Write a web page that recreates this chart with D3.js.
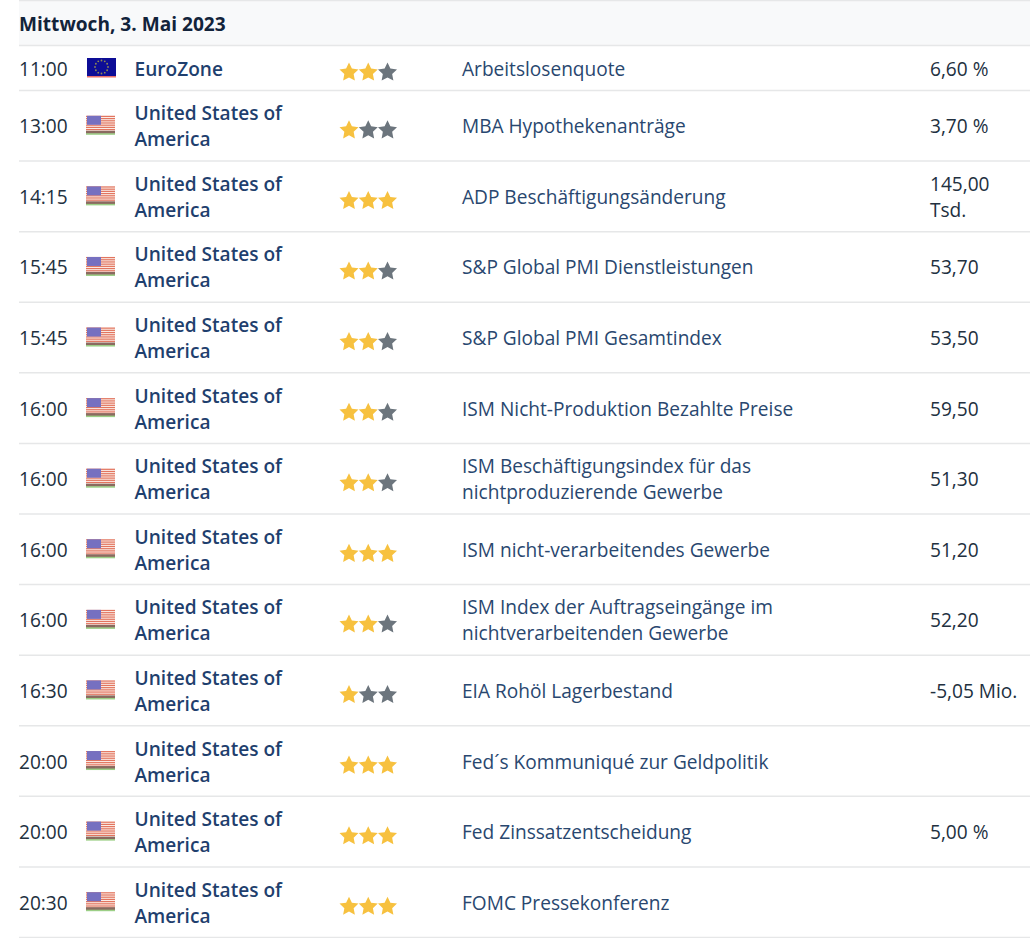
<!DOCTYPE html>
<html>
<head>
<meta charset="utf-8">
<script src="https://cdn.jsdelivr.net/npm/d3@7"></script>
<style>
    html, body { margin: 0; padding: 0; background: #fff; overflow: hidden; }
    svg { display: block; font-family: "Open Sans", sans-serif; }
</style>
</head>
<body>
<svg id="chart" width="1030" height="938"></svg>
<script>
const dateTitle = "Mittwoch, 3. Mai 2023";

const times = ["11:00", "13:00", "14:15", "15:45", "15:45", "16:00", "16:00", "16:00", "16:00", "16:30", "20:00", "20:00", "20:30"];

const usa = ["United States of", "America"];
const countries = [["EuroZone"], usa, usa, usa, usa, usa, usa, usa, usa, usa, usa, usa, usa];

const flags = ["eu", "us", "us", "us", "us", "us", "us", "us", "us", "us", "us", "us", "us"];

const ratings = [2, 1, 3, 2, 2, 2, 2, 3, 2, 1, 3, 3, 3];

const events = [
    ["Arbeitslosenquote"],
    ["MBA Hypothekenanträge"],
    ["ADP Beschäftigungsänderung"],
    ["S&P Global PMI Dienstleistungen"],
    ["S&P Global PMI Gesamtindex"],
    ["ISM Nicht-Produktion Bezahlte Preise"],
    ["ISM Beschäftigungsindex für das", "nichtproduzierende Gewerbe"],
    ["ISM nicht-verarbeitendes Gewerbe"],
    ["ISM Index der Auftragseingänge im", "nichtverarbeitenden Gewerbe"],
    ["EIA Rohöl Lagerbestand"],
    ["Fed´s Kommuniqué zur Geldpolitik"],
    ["Fed Zinssatzentscheidung"],
    ["FOMC Pressekonferenz"]
];

const values = [["6,60 %"], ["3,70 %"], ["145,00", "Tsd."], ["53,70"], ["53,50"], ["59,50"], ["51,30"], ["51,20"], ["52,20"], ["-5,05 Mio."], [], ["5,00 %"], []];

const svg = d3.select("#chart");
const left = 19, right = 1030;
const fontSize = 19.1;

// rows after the first are all the same height, so a linear scale does it
const rowY = d3.scaleLinear().domain([1, 13]).range([90.5, 937.5]);
const top_ = i => i === 0 ? 45.5 : rowY(i);
const mid = i => (top_(i) + rowY(i + 1)) / 2;

svg.append("rect").attr("x", left).attr("y", 0).attr("width", right - left).attr("height", 45).attr("fill", "#f8f9fa");

const ruleYs = [0.5, 45.5].concat(d3.range(1, 14).map(rowY));
svg.selectAll("line.rule").data(ruleYs).join("line")
    .attr("class", "rule")
    .attr("x1", left).attr("x2", right)
    .attr("y1", d => d).attr("y2", d => d)
    .attr("stroke", "#e6e7e8").attr("stroke-width", 1.5);

svg.append("text").attr("x", left).attr("y", 30.5)
    .attr("font-size", fontSize).attr("font-weight", 700).attr("fill", "#12233a")
    .text(dateTitle);

const defs = svg.append("defs");
defs.append("filter").attr("id", "soft").append("feGaussianBlur").attr("stdDeviation", 0.5);

const rows = svg.selectAll("g.row").data(times).join("g")
    .attr("class", "row")
    .attr("transform", (d, i) => `translate(0,${mid(i)})`);

rows.append("text").attr("x", left).attr("y", 7.5)
    .attr("font-size", fontSize).attr("fill", "#22303f")
    .text(d => d);

// multi line cell, centered around the row middle
function cell(sel, x, getLines, opts) {
    sel.each(function (d, i) {
        const lines = getLines(i);
        const offset = -(lines.length - 1) * 13 + 7.5;
        d3.select(this).selectAll(null).data(lines).join("text")
            .attr("x", x)
            .attr("y", (l, k) => offset + k * 26)
            .attr("font-size", fontSize)
            .attr("font-weight", opts.weight || 400)
            .attr("fill", opts.color)
            .text(l => l);
    });
}

cell(rows, 134.5, i => countries[i], { weight: 600, color: "#1f3f6e" });
cell(rows, 462, i => events[i], { color: "#29476f" });
cell(rows, 930, i => values[i], { color: "#22303f" });

// flags
rows.each(function (d, i) {
    const g = d3.select(this).append("g").attr("filter", "url(#soft)");
    if (flags[i] === "eu") {
        g.append("rect").attr("x", 87).attr("y", -10).attr("width", 29).attr("height", 19).attr("fill", "#0c0c96");
        g.append("rect").attr("x", 87).attr("y", 8).attr("width", 29).attr("height", 1.5).attr("fill", "#e8706a");
        g.selectAll("circle").data(d3.range(12)).join("circle")
            .attr("cx", k => 101.5 + 6.5 * Math.cos(k * Math.PI / 6))
            .attr("cy", k => -1 + 6.5 * Math.sin(k * Math.PI / 6))
            .attr("r", 0.9).attr("fill", "#8f8a55");
    } else {
        g.append("rect").attr("x", 86).attr("y", -10).attr("width", 29).attr("height", 18).attr("fill", "#fbeee8");
        g.selectAll("rect.stripe").data(d3.range(0, 8)).join("rect")
            .attr("class", "stripe")
            .attr("x", 86).attr("width", 29)
            .attr("y", k => -10 + k * 2.2).attr("height", 1.2)
            .attr("fill", "#e2755f");
        g.append("rect").attr("x", 86).attr("y", 5).attr("width", 29).attr("height", 3).attr("fill", "#8a6a60");
        g.append("rect").attr("x", 86).attr("y", 7.5).attr("width", 29).attr("height", 1.5).attr("fill", "#9ccf86");
        g.append("rect").attr("x", 87).attr("y", -10).attr("width", 14).attr("height", 9).attr("fill", "#7670c0");
    }
});

// rating stars, fatter than d3.symbolStar
const star = d3.lineRadial()
    .angle(k => k * Math.PI / 5)
    .radius(k => k % 2 ? 4.9 : 10)
    .curve(d3.curveLinearClosed)(d3.range(10));
const starX = d3.scaleLinear().domain([0, 2]).range([349, 387.5]);
rows.each(function (d, i) {
    d3.select(this).selectAll("path.star").data(d3.range(3)).join("path")
        .attr("class", "star")
        .attr("d", star)
        .attr("transform", k => `translate(${starX(k)},4.5)`)
        .attr("fill", k => k < ratings[i] ? "#f7c13f" : "#6c757d");
});
</script>
</body>
</html>
